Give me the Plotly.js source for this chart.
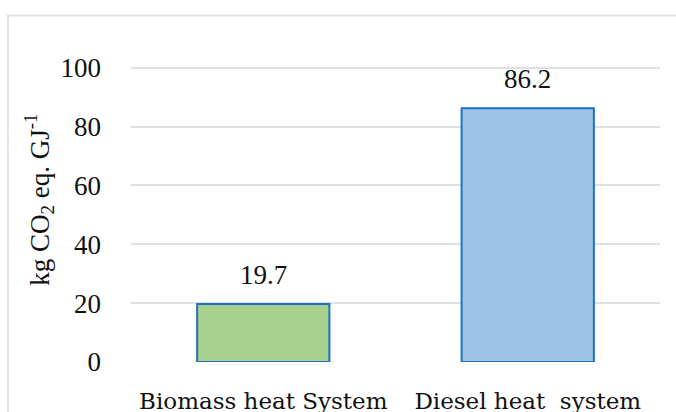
<!DOCTYPE html>
<html>
<head>
<meta charset="utf-8">
<script src="https://cdn.plot.ly/plotly-3.0.1.min.js"></script>
<style>html,body{margin:0;padding:0;background:#fff;}#chart{width:676px;height:412px;}</style>
</head>
<body>
<div id="chart"></div>
<script>
var categories = ["Biomass heat System", "Diesel heat  system"];
var values = [19.7, 86.2];
var valueLabels = ["19.7", "86.2"];
var barColors = ["#a9d18e", "#9dc3e6"];
var tickVals = [0, 20, 40, 60, 80, 100];
var tickText = ["0", "20", "40", "60", "80", "100"];

var numFont = "Liberation Serif, DejaVu Serif, serif";
var catFont = "DejaVu Serif, Liberation Serif, serif";

var trace = {
  type: "bar",
  x: categories,
  y: values,
  width: 0.5,
  marker: {color: barColors, line: {color: "#1f6fc5", width: 2}},
  hoverinfo: "none"
};

var annotations = categories.map(function (c, i) {
  return {
    x: c, y: values[i], xref: "x", yref: "y",
    text: valueLabels[i], showarrow: false,
    xanchor: "center", yanchor: "bottom", yshift: 12,
    font: {family: numFont, size: 27, color: "#111"}
  };
});
annotations.push({
  x: -0.174, y: 0.525, xref: "paper", yref: "paper",
  text: "kg CO<sub>2</sub> eq. GJ<sup>-1</sup>", showarrow: false,
  textangle: -90, xanchor: "center", yanchor: "middle",
  font: {family: numFont, size: 27, color: "#111"}
});

var layout = {
  width: 676, height: 412,
  margin: {l: 131, r: 16, t: 52.5, b: 49.7},
  paper_bgcolor: "#fff", plot_bgcolor: "#fff",
  showlegend: false,
  xaxis: {
    type: "category",
    range: [-0.5, 1.5],
    showgrid: false, zeroline: false, showline: false,
    ticks: "", ticklabelstandoff: 23,
    tickfont: {family: catFont, size: 23, color: "#111"}
  },
  yaxis: {
    range: [0, 105],
    tickvals: tickVals, ticktext: tickText,
    showgrid: true, gridcolor: "#dde1e6", gridwidth: 2,
    zeroline: false, showline: false,
    ticks: "", ticklabelstandoff: 29,
    tickfont: {family: numFont, size: 27, color: "#111"}
  },
  annotations: annotations,
  shapes: [{
    type: "rect", xref: "paper", yref: "paper",
    x0: -0.2325, x1: 1.3, y0: -0.5, y1: 1.1214,
    line: {color: "#dfe3ea", width: 2}, fillcolor: "rgba(0,0,0,0)", layer: "below"
  }]
};

Plotly.newPlot("chart", [trace], layout, {staticPlot: true, displayModeBar: false});
</script>
</body>
</html>
